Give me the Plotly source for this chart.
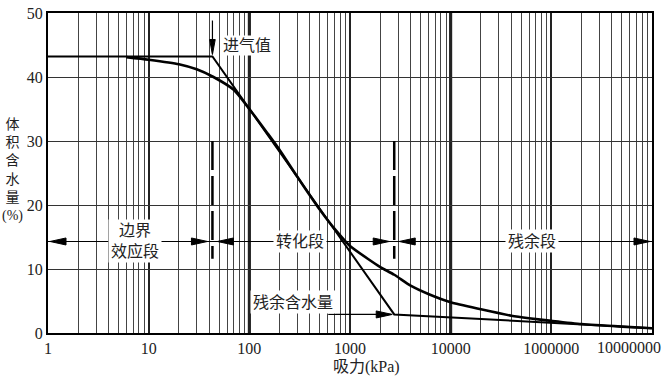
import numpy as np
import plotly.graph_objects as go

# ---------------- data ----------------
suction_kpa = [6, 10, 20, 30, 44, 70, 100, 150, 200, 300, 400, 500, 700, 870, 1000,
               1500, 2000, 2750, 4000, 6000, 10000, 20000, 40000, 60000, 100000,
               200000, 500000, 1000000]
vwc_pct = [43.1, 42.7, 42.0, 41.2, 40.0, 38.0, 35.0, 31.3, 28.6, 24.4, 21.5, 19.3, 16.3, 14.6, 13.6,
           11.6, 10.3, 9.1, 7.4, 6.1, 4.8, 3.7, 2.7, 2.3, 1.9,
           1.4, 1.0, 0.75]

# construction lines: saturated plateau -> tangent -> residual line
construct_x = [1, 43, 2750, 1000000]
construct_y = [43.2, 43.2, 2.9, 0.76]

air_entry_kpa = 43
air_entry_pct = 43.2
residual_kpa = 2750
residual_pct = 2.9

stage_bounds = [1, 43, 2750, 1000000]
stage_labels = ["边界<br>效应段", "转化段", "残余段"]
stage_label_x = [7.3, 320, 64000]
stage_line_y = 14.3
boundary_dash_y = [30, 11.6]

x_tickvals = [1, 10, 100, 1000, 10000, 100000]
x_ticktext = ["1", "10", "100", "1000", "10000", "1000000"]
x_last_label = "10000000"
y_tickvals = [0, 10, 20, 30, 40, 50]
emphasized_decades = [100, 10000]

SERIF = "Liberation Serif, Times New Roman, Noto Sans CJK SC, serif"
CJK = "Liberation Serif, Noto Sans CJK SC, serif"

minor_vals = [m * 10 ** k for k in range(6) for m in range(2, 10)]

fig = go.Figure()

# SWCC construction lines
fig.add_trace(go.Scatter(x=construct_x, y=construct_y, mode="lines",
                         line=dict(color="black", width=2), hoverinfo="skip"))
# SWCC curve
fig.add_trace(go.Scatter(x=suction_kpa, y=vwc_pct, mode="lines",
                         line=dict(color="black", width=2.6, shape="spline", smoothing=0.6),
                         hoverinfo="skip"))
# stage dimension line
fig.add_trace(go.Scatter(x=[stage_bounds[0], stage_bounds[-1]], y=[stage_line_y] * 2, mode="lines",
                         line=dict(color="black", width=1.2), hoverinfo="skip"))
# dashed stage boundaries
for b in stage_bounds[1:-1]:
    fig.add_trace(go.Scatter(x=[b, b], y=boundary_dash_y, mode="lines",
                             line=dict(color="black", width=2.5, dash="29px,6px"),
                             hoverinfo="skip"))

shapes = []
# emphasized decade grid lines
for d in emphasized_decades:
    shapes.append(dict(type="line", xref="x", yref="paper", x0=d, x1=d, y0=0, y1=1,
                       line=dict(color="black", width=3), layer="below"))


def head(anchor_x, anchor_y, path):
    return dict(type="path", xref="x", yref="y", xsizemode="pixel", ysizemode="pixel",
                xanchor=anchor_x, yanchor=anchor_y, path=path,
                fillcolor="black", line=dict(color="black", width=1), layer="above")


# stage arrowheads
for i in range(len(stage_bounds) - 1):
    a, b = stage_bounds[i], stage_bounds[i + 1]
    off_a = 2 if i == 0 else 5
    off_b = 2 if i == len(stage_bounds) - 2 else 5
    shapes.append(head(a, stage_line_y,
                       f"M{off_a},0 L{off_a + 16},3.5 L{off_a + 16},-3.5 Z"))
    shapes.append(head(b, stage_line_y,
                       f"M{-off_b},0 L{-off_b - 16},3.5 L{-off_b - 16},-3.5 Z"))

# air-entry arrow (vertical, pointing down)
shapes.append(dict(type="path", xref="x", yref="y", xsizemode="pixel", ysizemode="pixel",
                   xanchor=air_entry_kpa, yanchor=air_entry_pct, path="M0,3 L0,36",
                   line=dict(color="black", width=1.2)))
shapes.append(head(air_entry_kpa, air_entry_pct, "M0,2 L-2.8,17 L2.8,17 Z"))

# residual arrow (horizontal, pointing right)
shapes.append(dict(type="path", xref="x", yref="y", xsizemode="pixel", ysizemode="pixel",
                   xanchor=residual_kpa, yanchor=residual_pct, path="M-66,0 L-3,0",
                   line=dict(color="black", width=1.2)))
shapes.append(head(residual_kpa, residual_pct, "M-2,0 L-18,3.5 L-18,-3.5 Z"))

annotations = []
for lab, lx in zip(stage_labels, stage_label_x):
    annotations.append(dict(x=np.log10(lx), y=stage_line_y, xref="x", yref="y", text=lab,
                            showarrow=False, bgcolor="white", borderpad=2,
                            font=dict(family=CJK, size=16, color="#222")))
annotations.append(dict(x=np.log10(air_entry_kpa), y=air_entry_pct, xref="x", yref="y",
                        text="进气值", showarrow=False, xanchor="left", yanchor="middle",
                        xshift=9, yshift=11, bgcolor="white", borderpad=1,
                        font=dict(family=CJK, size=16, color="#222")))
annotations.append(dict(x=np.log10(residual_kpa), y=residual_pct, xref="x", yref="y",
                        text="残余含水量", showarrow=False, xanchor="right", yanchor="middle",
                        xshift=-58, yshift=12, bgcolor="white", borderpad=2,
                        font=dict(family=CJK, size=16, color="#222")))
annotations.append(dict(x=np.log10(stage_bounds[-1]), y=0, xref="x", yref="paper",
                        text=x_last_label, showarrow=False, xanchor="right", yanchor="top",
                        xshift=11, yshift=-4,
                        font=dict(family=SERIF, size=16, color="#222")))
annotations.append(dict(x=0.5265, y=-0.107, xref="paper", yref="paper", text="吸力(kPa)",
                        showarrow=False, xanchor="center", yanchor="middle",
                        font=dict(family=CJK, size=16, color="#222")))
annotations.append(dict(x=-0.0596, y=0.509, xref="paper", yref="paper",
                        text="体<br>积<br>含<br>水<br>量<br>(%)",
                        showarrow=False, xanchor="center", yanchor="middle",
                        font=dict(family=CJK, size=14, color="#222")))

fig.update_layout(
    width=667, height=381,
    margin=dict(l=48, r=15, t=5, b=48),
    paper_bgcolor="white", plot_bgcolor="white",
    showlegend=False,
    shapes=shapes,
    annotations=annotations,
    font=dict(family=SERIF, size=16, color="#222"),
)
fig.update_xaxes(type="log", range=[0, 6],
                 tickmode="array", tickvals=x_tickvals, ticktext=x_ticktext,
                 ticks="", ticklabelstandoff=0, ticklabeloverflow="allow",
                 showgrid=True, gridcolor="#222", gridwidth=2,
                 minor=dict(tickmode="array", tickvals=minor_vals, showgrid=True,
                            gridcolor="#444", gridwidth=1, ticks=""),
                 showline=True, linecolor="black", linewidth=2, mirror=True,
                 zeroline=False, tickfont=dict(family=SERIF, size=16, color="#222"))
fig.update_yaxes(range=[0, 50], tickmode="array", tickvals=y_tickvals,
                 ticks="", ticklabelstandoff=0, ticklabeloverflow="allow",
                 showgrid=True, gridcolor="#333", gridwidth=1,
                 showline=True, linecolor="black", linewidth=2, mirror=True,
                 zeroline=False, tickfont=dict(family=SERIF, size=16, color="#222"))

fig.write_html("out.html", config={"displayModeBar": False},
               post_script="document.body.style.margin='0';")
